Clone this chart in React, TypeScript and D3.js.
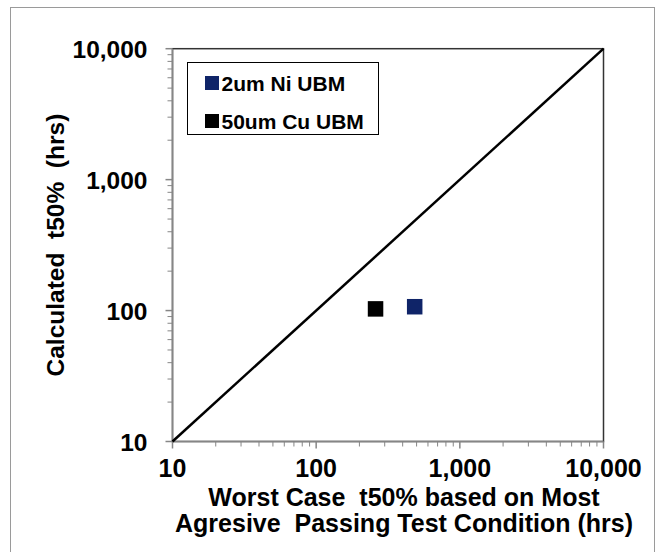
import React from "react";
import * as d3 from "d3";

const seriesNames = ["2um Ni UBM", "50um Cu UBM"];
const seriesColors = ["#0F2468", "#000000"];
const seriesX = [485, 259];
const seriesY = [107, 103];
const tickValues = [10, 100, 1000, 10000];
const refLine = [10, 10000];
const xTitle = ["Worst Case  t50% based on Most", "Agresive  Passing Test Condition (hrs)"];
const yTitle = "Calculated  t50%  (hrs)";

const W = 659, H = 552;
const L = 172.5, R = 603.5, T = 48.7, B = 441.5;
const FONT = "'Liberation Sans', Arial, sans-serif";

export default function App() {
  const x = d3.scaleLog().domain([10, 10000]).range([L, R]);
  const y = d3.scaleLog().domain([10, 10000]).range([B, T]);
  const fmt = d3.format(",");
  const minor: number[] = [];
  for (let e = 1; e < 4; e++) for (let m = 2; m <= 9; m++) minor.push(m * Math.pow(10, e));
  const axisColor = "#868686";
  const line = d3.line<number>().x((d) => x(d)).y((d) => y(d));
  const sq = 15.5;
  const pre = { whiteSpace: "pre" as const };
  return (
    <svg width={W} height={H} style={{ position: "absolute", left: 0, top: 0, background: "#fff" }} fontFamily={FONT}>
      <rect x={10.5} y={7.5} width={644} height={560} fill="#fff" stroke="#9a9a9a" strokeWidth={1} />
      <rect x={L} y={T} width={R - L} height={B - T} fill="#fff" stroke="#333" strokeWidth={1.5} />
      <line x1={L} x2={L} y1={T} y2={B} stroke={axisColor} strokeWidth={1.5} />
      <line x1={L} x2={R} y1={B} y2={B} stroke={axisColor} strokeWidth={1.5} />
      {tickValues.map((v) => (
        <g key={"t" + v}>
          <line x1={x(v)} x2={x(v)} y1={B} y2={B + 7} stroke={axisColor} strokeWidth={1.5} />
          <line x1={L - 7} x2={L} y1={y(v)} y2={y(v)} stroke={axisColor} strokeWidth={1.5} />
          <text x={x(v)} y={B + 35} textAnchor="middle" fontWeight="bold" fontSize={25} fill="#000">{fmt(v)}</text>
          <text x={L - 25} y={y(v) + 9} textAnchor="end" fontWeight="bold" fontSize={24.5} fill="#000">{fmt(v)}</text>
        </g>
      ))}
      {minor.map((v) => (
        <g key={"m" + v}>
          <line x1={x(v)} x2={x(v)} y1={B} y2={B + 5} stroke={axisColor} strokeWidth={1} />
          <line x1={L - 5} x2={L} y1={y(v)} y2={y(v)} stroke={axisColor} strokeWidth={1} />
        </g>
      ))}
      <path d={line(refLine) || ""} stroke="#000" strokeWidth={2.5} fill="none" />
      {seriesNames.map((n, i) => (
        <rect key={n} x={x(seriesX[i]) - sq / 2} y={y(seriesY[i]) - sq / 2} width={sq} height={sq} fill={seriesColors[i]} />
      ))}
      <rect x={187.5} y={62.5} width={191} height={72} fill="#fff" stroke="#000" strokeWidth={1} />
      {seriesNames.map((n, i) => (
        <g key={"l" + n}>
          <rect x={205} y={76 + i * 38} width={14} height={14} fill={seriesColors[i]} />
          <text x={221.5} y={91 + i * 38} fontWeight="bold" fontSize={21} fill="#000">{n}</text>
        </g>
      ))}
      {xTitle.map((t, i) => (
        <text key={t} x={404} y={506 + i * 26} textAnchor="middle" fontWeight="bold" fontSize={25} fill="#000" style={pre}>{t}</text>
      ))}
      <text transform={`translate(64,${(T + B) / 2}) rotate(-90)`} textAnchor="middle" fontWeight="bold" fontSize={24.5} fill="#000" style={pre}>{yTitle}</text>
    </svg>
  );
}
